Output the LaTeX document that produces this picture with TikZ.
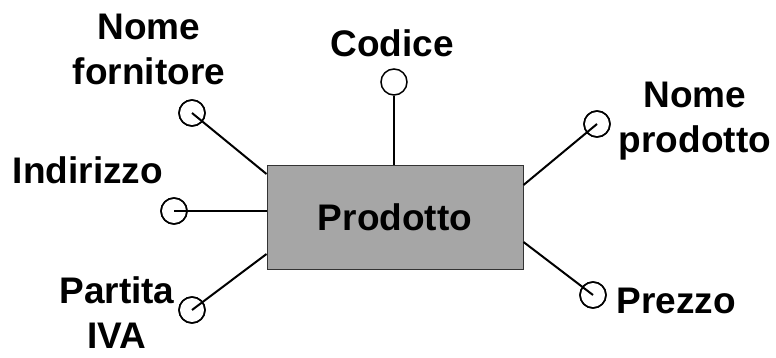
\documentclass[tikz,border=0pt]{standalone}
\usepackage{fontspec}
\setmainfont{Liberation Sans}
\begin{document}
\begin{tikzpicture}[x=0.5pt, y=-0.5pt,
    attr/.style={circle, draw, line width=0.75pt, minimum size=13pt, inner sep=0pt},
    lbl/.style={font=\bfseries\fontsize{18.5}{22.5}\selectfont, align=center, inner sep=0pt},
    link/.style={line width=1pt}]
    \useasboundingbox (0,0) rectangle (776,358);
    \node[draw=black!80, line width=0.5pt, fill=black!35, minimum width=128pt, minimum height=52pt,
          font=\bfseries\fontsize{18.5}{22.5}\selectfont] (prod) at (395,217) {Prodotto};
    \node[attr] (forn) at (192,113) {};
    \node[attr] (ind) at (174,211) {};
    \node[attr] (piva) at (192,310) {};
    \node[attr, fill=white] (cod) at (394,82) {};
    \node[attr] (nprod) at (597,124) {};
    \node[attr] (prez) at (593,295) {};
    \node[lbl] (lforn) at (149,49) {Nome\\fornitore};
    \node[lbl] (lind) at (88,170) {Indirizzo};
    \node[lbl] (lpiva) at (117,313) {Partita\\IVA};
    \node[lbl] (lcod) at (392,43) {Codice};
    \node[lbl] (lnprod) at (695,121) {Nome\\prodotto};
    \node[lbl] (lprez) at (676,301) {Prezzo};
    \draw[link] (forn.center) -- (prod.west |- 0,174);
    \draw[link] (ind.center) -- (prod.west |- ind);
    \draw[link] (piva.center) -- (prod.west |- 0,254);
    \draw[link] (cod) -- (prod.north -| cod);
    \draw[link] (nprod.center) -- (prod.east |- 0,185);
    \draw[link] (prez.center) -- (prod.east |- 0,242);
    \foreach \n in {forn,ind,piva,nprod,prez} \node[attr] at (\n) {};
\end{tikzpicture}
\end{document}
